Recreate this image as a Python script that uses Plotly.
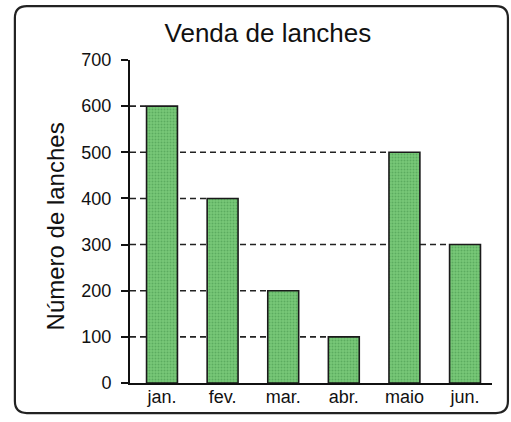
import plotly.graph_objects as go

months = ["jan.", "fev.", "mar.", "abr.", "maio", "jun."]
sales = [600, 400, 200, 100, 500, 300]
y_ticks = [0, 100, 200, 300, 400, 500, 600, 700]

title_text = "Venda de lanches"
y_title = "Número de lanches"

FONT = "Liberation Sans, Arial, Helvetica, sans-serif"
BAR_W = 0.51
X0 = -0.528
X1 = 5.445

x_idx = list(range(len(months)))

fig = go.Figure()
fig.add_trace(go.Bar(
    x=x_idx, y=sales, width=BAR_W,
    marker=dict(
        color="#6cbc6c",
        line=dict(color="#1a1a1a", width=1.6),
        pattern=dict(shape=".", fgcolor="#3f8f45", bgcolor="#78c878",
                     size=3, solidity=0.35),
    ),
    hoverinfo="skip",
))

shapes = []
# dashed reference lines from the y axis to each bar top
for i, v in enumerate(sales):
    shapes.append(dict(
        type="line", xref="x", yref="y", x0=X0, x1=i - BAR_W / 2, y0=v, y1=v,
        line=dict(color="#222", width=1.6, dash="6px,4px"), layer="below",
    ))

# rounded frame around the figure (paper coordinates)
L, R, T, B = -0.318, 1.044, 1.167, -0.093
rx, ry = 0.033, 0.037
path = (f"M {L+rx},{T} L {R-rx},{T} Q {R},{T} {R},{T-ry} L {R},{B+ry} "
        f"Q {R},{B} {R-rx},{B} L {L+rx},{B} Q {L},{B} {L},{B+ry} "
        f"L {L},{T-ry} Q {L},{T} {L+rx},{T} Z")
shapes.append(dict(type="path", xref="paper", yref="paper", path=path,
                   line=dict(color="#222", width=2.2), layer="above"))

fig.update_layout(
    width=511, height=422,
    margin=dict(l=130, r=19, t=60, b=39),
    paper_bgcolor="white", plot_bgcolor="rgba(0,0,0,0)",
    font=dict(family=FONT, size=18, color="#111"),
    showlegend=False,
    shapes=shapes,
    title=dict(text=title_text, x=0.381, xref="paper", xanchor="center",
               y=0.922, yref="container", yanchor="middle",
               font=dict(family=FONT, size=26, color="#111")),
    xaxis=dict(
        range=[X0, X1], tickmode="array", tickvals=x_idx, ticktext=months,
        showline=True, linecolor="#111", linewidth=2, ticks="",
        ticklabelstandoff=-4,
        showgrid=False, zeroline=False, fixedrange=True,
        tickfont=dict(size=18),
    ),
    yaxis=dict(
        range=[0, 700], tickmode="array", tickvals=y_ticks,
        showline=True, linecolor="#111", linewidth=2,
        ticks="outside", ticklen=7, tickwidth=1.5, tickcolor="#111",
        ticklabelstandoff=6,
        showgrid=False, zeroline=False, fixedrange=True,
        tickfont=dict(size=18),
    ),
    annotations=[dict(
        text=y_title, xref="paper", yref="paper", x=-0.206, y=0.486,
        textangle=-90, showarrow=False, xanchor="center", yanchor="middle",
        font=dict(family=FONT, size=24, color="#111"),
    )],
)

fig.write_html(
    "out.html",
    config={"displayModeBar": False},
    post_script="document.body.style.margin='0';document.body.style.overflow='hidden';",
)
